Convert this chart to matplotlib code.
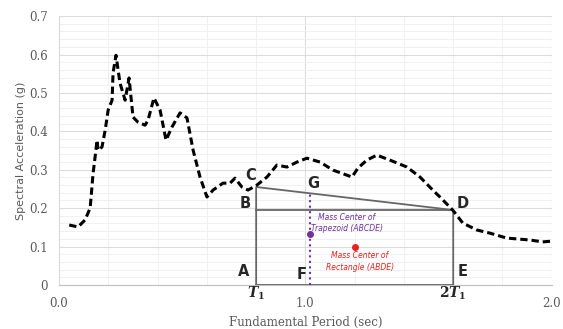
import matplotlib.pyplot as plt
import numpy as np
from matplotlib.ticker import MultipleLocator

# spectrum
period = [0.041, 0.077, 0.105, 0.126, 0.138, 0.146, 0.154, 0.158, 0.174, 0.187, 0.199, 0.215, 0.219, 0.231,
          0.247, 0.268, 0.284, 0.300, 0.320, 0.349, 0.361, 0.385, 0.410, 0.434, 0.458, 0.491, 0.519, 0.544,
          0.572, 0.600, 0.625, 0.665, 0.694, 0.714, 0.742, 0.767, 0.803, 0.844, 0.884, 0.925, 0.966, 1.006,
          1.059, 1.112, 1.189, 1.213, 1.249, 1.290, 1.343, 1.412, 1.465, 1.517, 1.546, 1.598, 1.639, 1.696,
          1.748, 1.817, 1.911, 1.963, 2.0]
sa = [0.156, 0.151, 0.169, 0.200, 0.291, 0.333, 0.377, 0.351, 0.359, 0.403, 0.455, 0.481, 0.552, 0.598,
      0.526, 0.481, 0.539, 0.437, 0.424, 0.416, 0.429, 0.487, 0.455, 0.377, 0.411, 0.448, 0.435, 0.351,
      0.281, 0.229, 0.247, 0.265, 0.265, 0.278, 0.255, 0.247, 0.260, 0.281, 0.312, 0.307, 0.320, 0.330,
      0.320, 0.299, 0.281, 0.304, 0.325, 0.338, 0.325, 0.307, 0.281, 0.247, 0.229, 0.195, 0.161, 0.143,
      0.135, 0.122, 0.117, 0.112, 0.114]

T1 = 0.8; T2 = 1.6
saC = 0.255; saD = 0.195
xG = 1.02
trap_center = (1.02, 0.133)
rect_center = (1.2, 0.10)

plt.rcParams['mathtext.fontset'] = 'custom'
plt.rcParams['mathtext.it'] = 'DejaVu Serif:italic:bold'
plt.rcParams['mathtext.rm'] = 'DejaVu Serif:bold'

gray = '#595959'
fig = plt.figure(figsize=(5.63, 3.29), dpi=100)
ax = fig.add_axes([0.105, 0.134, 0.875, 0.817])

ax.set_xlim(0, 2.0); ax.set_ylim(0, 0.7)
ax.yaxis.set_major_locator(MultipleLocator(0.1)); ax.yaxis.set_minor_locator(MultipleLocator(0.02))
ax.xaxis.set_major_locator(MultipleLocator(1.0)); ax.xaxis.set_minor_locator(MultipleLocator(0.2))
ax.grid(which='major', color='#dcdcdc', lw=0.8)
ax.grid(which='minor', color='#f0f0f0', lw=0.7)
ax.set_axisbelow(True)
for s in ['top', 'right']:
    ax.spines[s].set_visible(False)
ax.spines['left'].set_color('#d9d9d9'); ax.spines['bottom'].set_color('#bfbfbf')
ax.tick_params(which='both', length=0)
ax.set_yticks(np.arange(0, 0.71, 0.1))
ax.set_yticklabels(['0'] + ['%.1f' % v for v in np.arange(0.1, 0.71, 0.1)],
                   family='DejaVu Serif', fontsize=8.5, color=gray)
ax.set_xticks([0, 1.0, 2.0])
ax.set_xticklabels(['0.0', '1.0', '2.0'], family='DejaVu Serif', fontsize=8.5, color=gray)
ax.tick_params(axis='x', pad=9); ax.tick_params(axis='y', pad=8)
ax.set_ylabel('Spectral Acceleration (g)', fontsize=8, color=gray, labelpad=2)
ax.set_xlabel('Fundamental Period (sec)', family='DejaVu Serif', fontsize=8.5, color=gray, labelpad=4)

ax.plot(period, sa, color='black', lw=2.2, ls=(0, (2.4, 1.3)), zorder=4)

# trapezoid ABCDE
lc = '#666666'
ax.plot([T1, T1, T2, T2], [0, saC, saD, 0], color=lc, lw=1.3, zorder=3)
ax.plot([T1, T2], [saD, saD], color=lc, lw=1.3, zorder=3)
ax.plot([T1, T2], [0, 0], color=lc, lw=1.3, zorder=3)
yG = saC + (saD - saC) * (xG - T1) / (T2 - T1)
ax.plot([xG, xG], [0, yG], color='#7030a0', lw=1.5, ls=':', zorder=3)
ax.plot(*trap_center, 'o', color='#7030a0', ms=4, zorder=5)
ax.plot(*rect_center, 'o', color='#e8211c', ms=4, zorder=5)

for lab, x, y in [('A', 0.75, 0.034), ('B', 0.755, 0.213), ('C', 0.779, 0.284), ('D', 1.637, 0.211),
                  ('E', 1.637, 0.036), ('F', 0.986, 0.026), ('G', 1.03, 0.265)]:
    ax.text(x, y, lab, fontsize=10.5, fontweight='bold', color='#262626', ha='center', va='center')
ax.text(1.168, 0.161, 'Mass Center of\nTrapezoid (ABCDE)', fontsize=5.5, style='italic', color='#7030a0',
        ha='center', va='center', linespacing=1.4)
ax.text(1.22, 0.062, 'Mass Center of\nRectangle (ABDE)', fontsize=5.5, style='italic', color='#e8211c',
        ha='center', va='center', linespacing=1.4)

ax.text(T1, -0.023, r'$T_{\mathit{1}}$', fontsize=10, ha='center', va='center', color='#262626')
ax.text(T2, -0.023, r'$\mathit{2}T_{\mathit{1}}$', fontsize=10, ha='center', va='center', color='#262626')

fig.savefig('out.png', dpi=100)
